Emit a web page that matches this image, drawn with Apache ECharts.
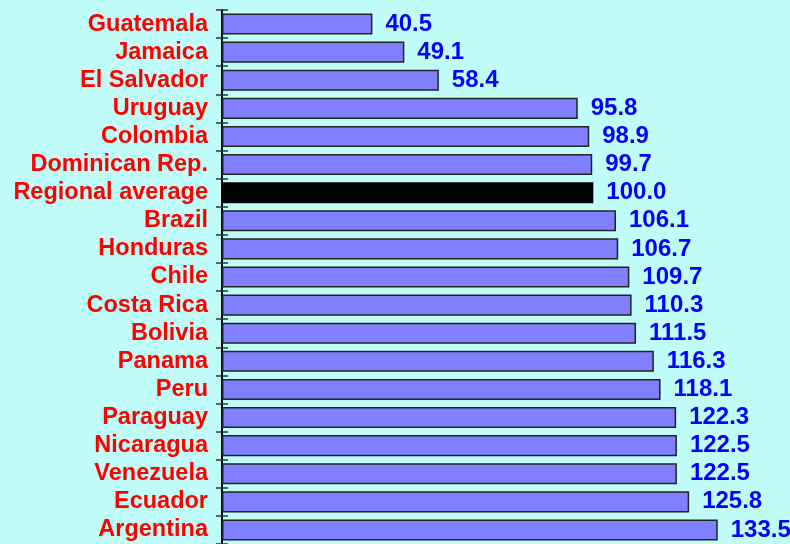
<!DOCTYPE html>
<html>
<head>
<meta charset="utf-8">
<script src="https://cdn.jsdelivr.net/npm/echarts@6/dist/echarts.min.js"></script>
<style>
  html, body { margin: 0; padding: 0; background: #c0fcf8; }
  #chart { width: 790px; height: 544px; }
</style>
</head>
<body>
<div id="chart"></div>
<script>
// countries, top to bottom
const countries = ['Guatemala', 'Jamaica', 'El Salvador', 'Uruguay', 'Colombia', 'Dominican Rep.',
  'Regional average', 'Brazil', 'Honduras', 'Chile', 'Costa Rica', 'Bolivia', 'Panama', 'Peru',
  'Paraguay', 'Nicaragua', 'Venezuela', 'Ecuador', 'Argentina']
const values = [40.5, 49.1, 58.4, 95.8, 98.9, 99.7, 100.0, 106.1, 106.7, 109.7, 110.3, 111.5,
  116.3, 118.1, 122.3, 122.5, 122.5, 125.8, 133.5]
const highlight = 'Regional average'

const chart = echarts.init(document.getElementById('chart'))

const data = values.map((v, i) => ({
  value: v,
  itemStyle: countries[i] === highlight ? { color: '#000000', borderColor: '#000000' } : {}
}))

chart.setOption({
  backgroundColor: '#c0fcf8',
  animation: false,
  grid: { left: 222, right: 11, top: 10, height: 536 },
  xAxis: {
    type: 'value',
    min: 0,
    max: 150,
    show: false
  },
  yAxis: [{
    type: 'category',
    data: countries,
    inverse: true,
    axisLine: { lineStyle: { color: '#000', width: 2 } },
    axisTick: { show: true, interval: 0, length: 6, lineStyle: { color: '#333', width: 1.5 } },
    axisLabel: {
      interval: 0,
      color: '#ff0000',
      fontFamily: 'Liberation Sans',
      fontWeight: 'bold',
      fontSize: 23.5,
      margin: 14,
      padding: [0, 0, 8, 0]
    }
  }, {
    // inner half of the crossing ticks
    type: 'category',
    data: countries,
    inverse: true,
    position: 'left',
    axisLine: { show: false },
    axisTick: { show: true, interval: 0, inside: true, length: 6, lineStyle: { color: '#333', width: 1.5 } },
    axisLabel: { show: false }
  }],
  series: [{
    type: 'bar',
    data: data,
    barCategoryGap: '25%',
    itemStyle: { color: '#8080ff', borderColor: '#222', borderWidth: 1.5 },
    label: {
      show: true,
      position: 'right',
      distance: 13,
      color: '#0000ff',
      fontFamily: 'Liberation Sans',
      fontWeight: 'bold',
      fontSize: 24,
      padding: [0, 0, 2, 0],
      formatter: p => p.value.toFixed(1)
    }
  }]
})
</script>
</body>
</html>
